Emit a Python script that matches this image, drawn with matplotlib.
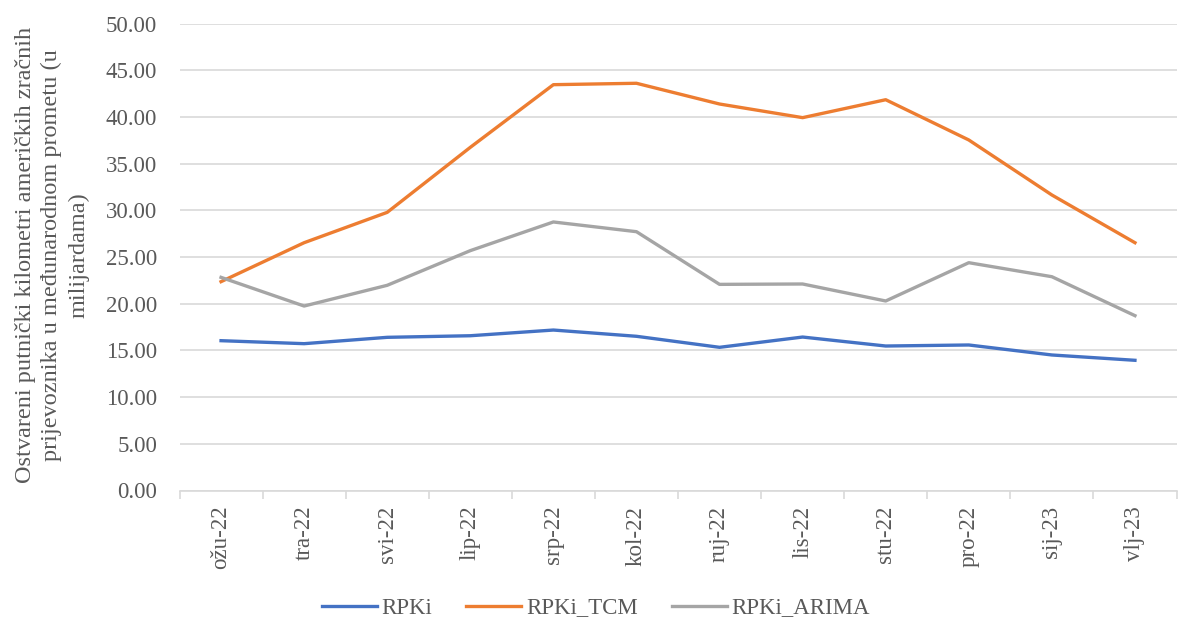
import matplotlib
matplotlib.use("Agg")
import matplotlib.pyplot as plt
import numpy as np

months = ["ožu-22", "tra-22", "svi-22", "lip-22", "srp-22", "kol-22",
          "ruj-22", "lis-22", "stu-22", "pro-22", "sij-23", "vlj-23"]
rpki = [16.04, 15.72, 16.40, 16.57, 17.18, 16.51,
        15.33, 16.43, 15.47, 15.58, 14.51, 13.94]
rpki_tcm = [22.36, 26.53, 29.78, 36.74, 43.45, 43.60,
            41.38, 39.92, 41.84, 37.53, 31.64, 26.53]
rpki_arima = [22.82, 19.75, 21.97, 25.68, 28.75, 27.71,
              22.07, 22.11, 20.29, 24.39, 22.89, 18.72]
y_ticks = [0, 5, 10, 15, 20, 25, 30, 35, 40, 45, 50]

plt.rcParams["font.family"] = ["Liberation Serif", "DejaVu Serif"]
text_col = "#595959"
grid_col = "#D9D9D9"
fs = 16.5

fig = plt.figure(figsize=(11.79, 6.21), dpi=100)
ax = fig.add_axes([179.5 / 1179, 1 - 490.5 / 621, 997 / 1179, 467 / 621])

x = np.arange(len(months))
ax.plot(x, rpki, color="#4472C4", lw=2.4, label="RPKi", solid_joinstyle="round")
ax.plot(x, rpki_tcm, color="#ED7D31", lw=2.4, label="RPKi_TCM", solid_joinstyle="round")
ax.plot(x, rpki_arima, color="#A5A5A5", lw=2.4, label="RPKi_ARIMA", solid_joinstyle="round")

ax.set_xlim(-0.5, len(months) - 0.5)
ax.set_ylim(0, 50)
ax.set_yticks(y_ticks)
ax.set_yticklabels([f"{v:.2f}" for v in y_ticks], fontsize=fs, color=text_col)
ax.yaxis.grid(True, color=grid_col, lw=1.2)
ax.set_axisbelow(True)
ax.tick_params(axis="y", length=0, pad=16)

ax.set_xticks(x)
ax.set_xticklabels(months, rotation=90, fontsize=fs, color=text_col)
ax.set_xticks(np.arange(-0.5, len(months)), minor=True)
ax.tick_params(axis="x", which="major", length=0, pad=11)
ax.tick_params(axis="x", which="minor", length=6, color=grid_col, width=1.2)

for side in ["top", "right", "left"]:
    ax.spines[side].set_visible(False)
ax.spines["bottom"].set_color(grid_col)
ax.spines["bottom"].set_linewidth(1.2)

fig.text(52 / 1179, 1 - 255 / 621,
         "Ostvareni putnički kilometri američkih zračnih\n"
         "prijevoznika u međunarodnom prometu (u\n"
         "milijardama)",
         rotation=90, ha="center", va="center", multialignment="center",
         fontsize=fs + 1, color=text_col, linespacing=1.35)

fig.legend(loc="center", bbox_to_anchor=(596 / 1179, 1 - 608 / 621), ncol=3,
           frameon=False, fontsize=fs, labelcolor=text_col,
           handlelength=2.4, handletextpad=0.2, columnspacing=1.5)

fig.savefig("out.png", dpi=100, facecolor="white")
